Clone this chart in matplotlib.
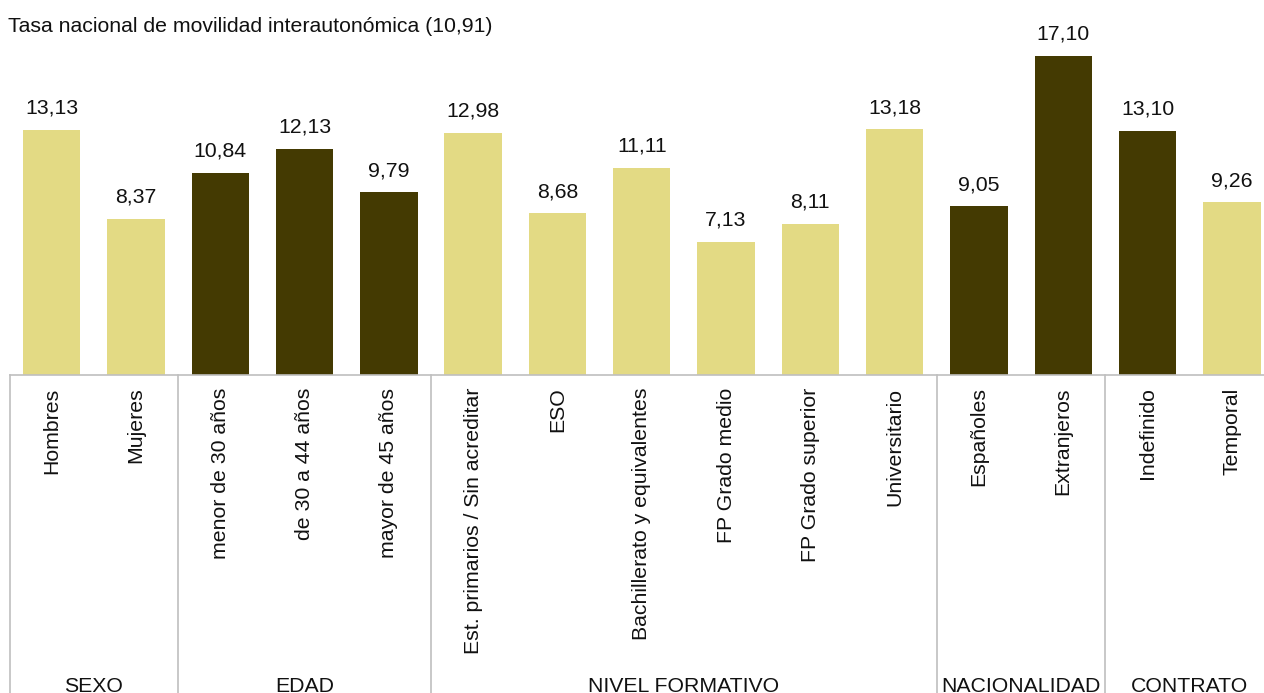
import numpy as np
import matplotlib
matplotlib.use("Agg")
import matplotlib.pyplot as plt
from matplotlib.lines import Line2D
import matplotlib.transforms as mtransforms

plt.rcParams['font.family'] = ['Liberation Sans', 'DejaVu Sans']

# data
categorias = ["Hombres", "Mujeres",
              "menor de 30 años", "de 30 a 44 años", "mayor de 45 años",
              "Est. primarios / Sin acreditar", "ESO", "Bachillerato y equivalentes",
              "FP Grado medio", "FP Grado superior", "Universitario",
              "Españoles", "Extranjeros",
              "Indefinido", "Temporal"]
valores = [13.13, 8.37,
           10.84, 12.13, 9.79,
           12.98, 8.68, 11.11, 7.13, 8.11, 13.18,
           9.05, 17.10,
           13.10, 9.26]
oscuro = [0, 0, 1, 1, 1, 0, 0, 0, 0, 0, 0, 1, 1, 1, 0]
grupos = ["SEXO", "EDAD", "NIVEL FORMATIVO", "NACIONALIDAD", "CONTRATO"]
tam_grupos = [2, 3, 6, 2, 2]
titulo = "Tasa nacional de movilidad interautonómica (10,91)"

CLARO = "#E3DA84"
OSCURO = "#443A02"
GRIS = "#BFBFBF"
FS = 15.3

W, H = 1264, 693
fig = plt.figure(figsize=(W / 100, H / 100), dpi=100)

# axes: x from 9.5px to 1274px (chart is cut on the right), axis line at y=375px
left = 9.5 / W
right = 1274 / W
bottom = (H - 375) / H
ax = fig.add_axes([left, bottom, right - left, 1 - bottom])

x = np.arange(len(categorias))
colores = [OSCURO if o else CLARO for o in oscuro]
ax.bar(x, valores, width=0.68, color=colores, zorder=2)

ax.set_xlim(-0.5, len(categorias) - 0.5)
ax.set_ylim(0, 375 / 18.66)

for xi, v in zip(x, valores):
    ax.annotate(f"{v:.2f}".replace(".", ","), (xi, v), xytext=(0, 16),
                textcoords="offset pixels", ha="center", va="baseline",
                fontsize=FS, color="#111111")

ax.set_xticks(x)
ax.set_xticklabels(categorias, rotation=90, ha="center", va="top",
                   fontsize=FS, color="#111111")
ax.tick_params(axis="x", length=0, pad=9)
ax.set_yticks([])
for s in ["top", "left", "right"]:
    ax.spines[s].set_visible(False)
ax.spines["bottom"].set_color(GRIS)
ax.spines["bottom"].set_linewidth(1.2)

# group separators and group labels
trans = mtransforms.blended_transform_factory(ax.transData, fig.transFigure)
limites = np.concatenate([[0], np.cumsum(tam_grupos)]) - 0.5
for b in limites:
    ax.add_line(Line2D([b, b], [0, bottom], transform=trans, color=GRIS,
                       linewidth=1.2, clip_on=False))
for g, a, b in zip(grupos, limites[:-1], limites[1:]):
    ax.text((a + b) / 2, 1.5 / H, g, transform=trans, ha="center",
            va="baseline", fontsize=FS, color="#111111")

fig.text(8 / W, 1 - 32 / H, titulo, ha="left", va="baseline",
         fontsize=FS, color="#111111")

fig.savefig("out.png", dpi=100)
